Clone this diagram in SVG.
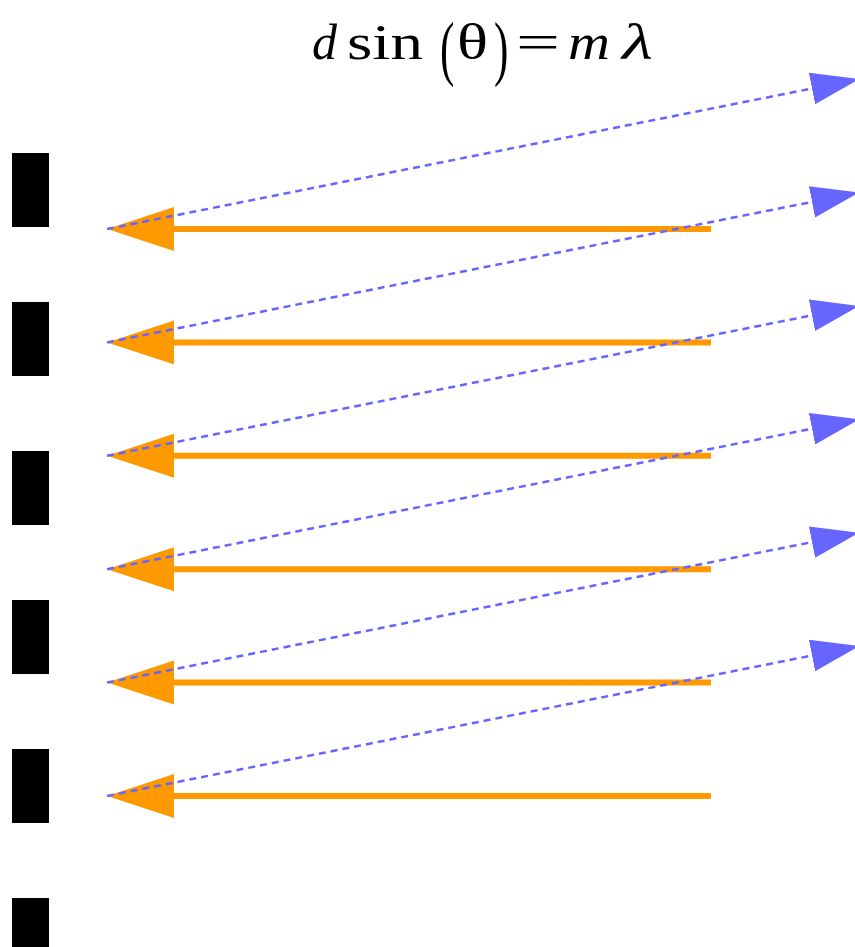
<svg xmlns="http://www.w3.org/2000/svg" width="855" height="947" viewBox="0 0 855 947">
<style>
.bar{fill:#000}
.inc{stroke:#ff9900;stroke-width:6;fill:none}
.dif{stroke:#6666ff;stroke-width:2.5;stroke-dasharray:7 5;fill:none}
.t{font-family:"Liberation Serif","DejaVu Serif",serif;font-size:50px;fill:#000}
.i{font-style:italic}
.p{font-size:72px}
</style>
<defs>
<marker id="oh" markerUnits="userSpaceOnUse" markerWidth="70" markerHeight="46" refX="34" refY="22" orient="auto" viewBox="0 0 70 46">
<path d="M0,0 L67,22 L0,44 Z" fill="#ff9900"/>
</marker>
<marker id="bh" markerUnits="userSpaceOnUse" markerWidth="50" markerHeight="34" refX="0" refY="16" orient="auto" viewBox="0 0 50 34">
<path d="M0,0 L48,16 L0,32 Z" fill="#6666ff"/>
</marker>
</defs>
<g id="title">
<text class="t i" x="312" y="59">d</text>
<text class="t" x="347" y="59" textLength="76" lengthAdjust="spacingAndGlyphs">sin</text>
<text class="t p" transform="translate(440,72) scale(0.6,1)">(</text>
<text class="t" x="457" y="59" textLength="31" lengthAdjust="spacingAndGlyphs">θ</text>
<text class="t p" transform="translate(494,72) scale(0.6,1)">)</text>
<text class="t" x="516" y="59" textLength="44" lengthAdjust="spacingAndGlyphs">=</text>
<text class="t i" x="568" y="59" textLength="42" lengthAdjust="spacingAndGlyphs">m</text>
<text class="t i" x="622" y="59" textLength="31" lengthAdjust="spacingAndGlyphs">λ</text>
</g>
<g id="grating">
<rect class="bar" x="12" y="153" width="37" height="74"/>
<rect class="bar" x="12" y="302" width="37" height="74"/>
<rect class="bar" x="12" y="451" width="37" height="74"/>
<rect class="bar" x="12" y="600" width="37" height="74"/>
<rect class="bar" x="12" y="749" width="37" height="74"/>
<rect class="bar" x="12" y="898" width="37" height="74"/>
</g>
<g id="connectors">
<line class="inc" x1="711" y1="229" x2="140" y2="229" marker-end="url(#oh)"/>
<line class="inc" x1="711" y1="342.4" x2="140" y2="342.4" marker-end="url(#oh)"/>
<line class="inc" x1="711" y1="455.8" x2="140" y2="455.8" marker-end="url(#oh)"/>
<line class="inc" x1="711" y1="569.2" x2="140" y2="569.2" marker-end="url(#oh)"/>
<line class="inc" x1="711" y1="682.6" x2="140" y2="682.6" marker-end="url(#oh)"/>
<line class="inc" x1="711" y1="796" x2="140" y2="796" marker-end="url(#oh)"/>
<line class="dif" x1="107" y1="229" x2="812" y2="88.5" marker-end="url(#bh)"/>
<line class="dif" x1="107" y1="342.4" x2="812" y2="201.9" marker-end="url(#bh)"/>
<line class="dif" x1="107" y1="455.8" x2="812" y2="315.3" marker-end="url(#bh)"/>
<line class="dif" x1="107" y1="569.2" x2="812" y2="428.7" marker-end="url(#bh)"/>
<line class="dif" x1="107" y1="682.6" x2="812" y2="542.1" marker-end="url(#bh)"/>
<line class="dif" x1="107" y1="796" x2="812" y2="655.5" marker-end="url(#bh)"/>
</g>
</svg>
